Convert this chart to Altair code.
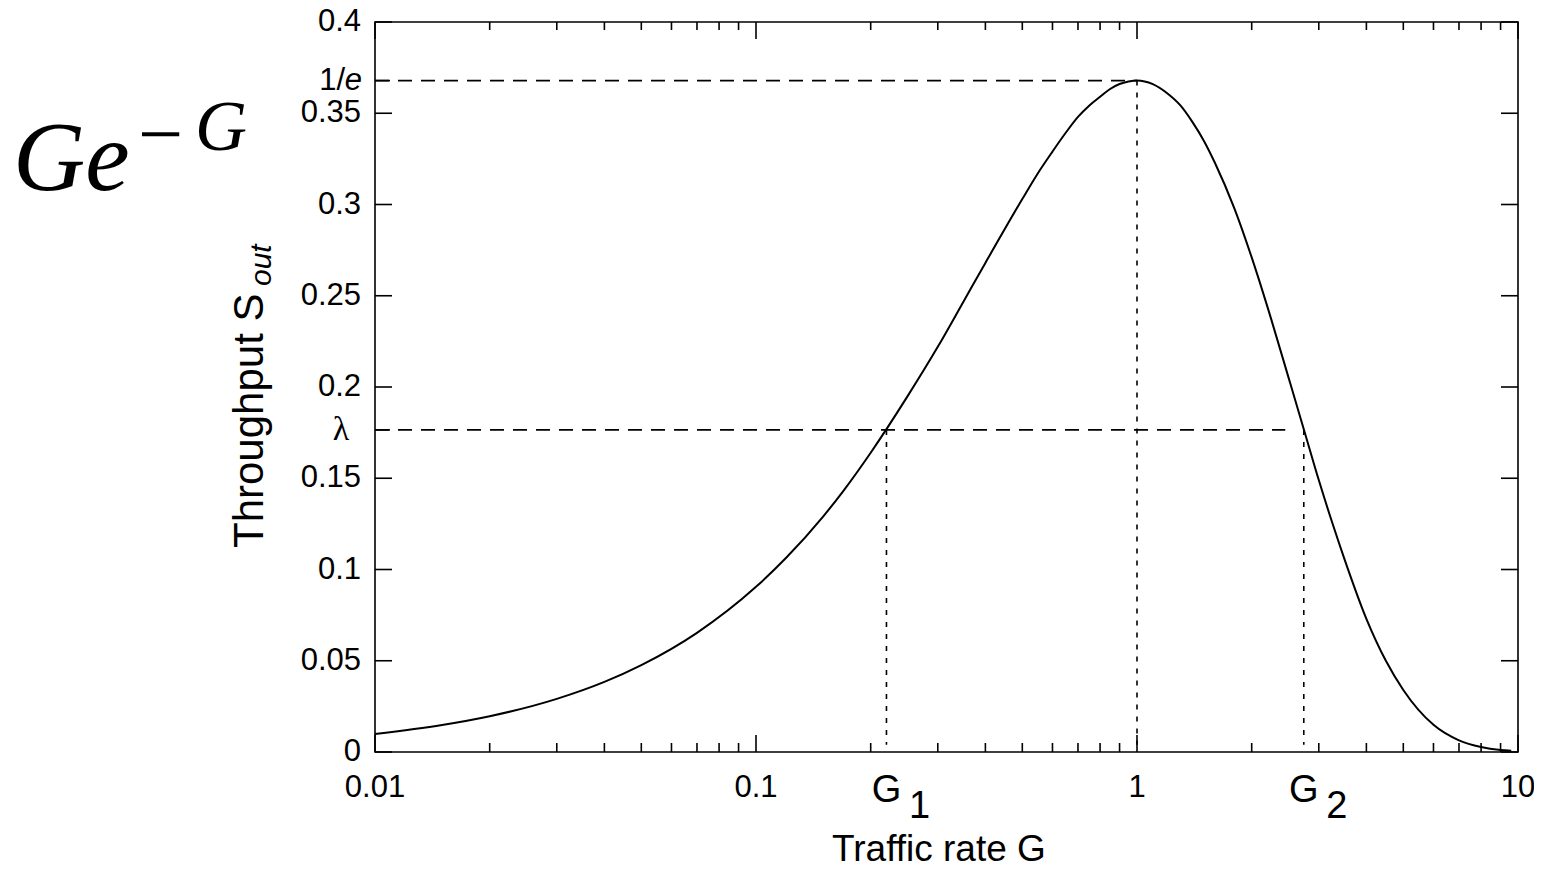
import altair as alt
import pandas as pd

# ---- data ----
G_VALUES = [0.01, 0.015, 0.02, 0.03, 0.04, 0.05, 0.07, 0.1, 0.12, 0.15, 0.17, 0.2,
            0.25, 0.3, 0.35, 0.4, 0.5, 0.55, 0.6, 0.65, 0.7, 0.75, 0.8, 0.85, 0.9,
            0.95, 1.0, 1.1, 1.2, 1.3, 1.4, 1.5, 1.6, 1.8, 2.0, 2.25, 2.5, 2.75,
            3.0, 3.25, 3.5, 4.0, 4.5, 5.0, 6.0, 7.0, 8.0, 9.0, 9.6]
S_VALUES = [0.0099, 0.0148, 0.0196, 0.0291, 0.0384, 0.0476, 0.0653, 0.0905, 0.1064,
            0.129, 0.1434, 0.164, 0.195, 0.222, 0.2466, 0.268, 0.303, 0.3173, 0.329,
            0.3393, 0.348, 0.3543, 0.359, 0.3633, 0.366, 0.3674, 0.368, 0.366, 0.361,
            0.3543, 0.345, 0.3347, 0.323, 0.298, 0.271, 0.2372, 0.205, 0.1758, 0.149,
            0.126, 0.106, 0.073, 0.05, 0.034, 0.0149, 0.0064, 0.0027, 0.0011, 0.0007]

X_MAJOR = [0.01, 0.1, 1, 10]
X_MAJOR_LABELS = ["0.01", "0.1", "1", "10"]
X_MINOR = [0.02, 0.03, 0.04, 0.05, 0.06, 0.07, 0.08, 0.09,
           0.2, 0.3, 0.4, 0.5, 0.6, 0.7, 0.8, 0.9,
           2, 3, 4, 5, 6, 7, 8, 9]
Y_TICKS = [0, 0.05, 0.1, 0.15, 0.2, 0.25, 0.3, 0.35, 0.4]
Y_TICK_LABELS = ["0", "0.05", "0.1", "0.15", "0.2", "0.25", "0.3", "0.35", "0.4"]

ONE_OVER_E = 0.3679
LAMBDA = 0.1765
G_PEAK = 1.0
G1 = 0.22
G2 = 2.74
LAMBDA_LINE_END = 2.45
DOTTED_BOTTOM = 0.004

W, H = 1143, 730
FONT = "Liberation Sans"
SERIF = "Liberation Serif"
BLACK = "#000000"
TICK_FS = 31

xs = alt.Scale(type="log", domain=[0.01, 10], nice=False)
ys = alt.Scale(domain=[0, 0.4], nice=False, zero=False)


def X(field="x"):
    return alt.X(f"{field}:Q", scale=xs, axis=None)


def Y(field="y"):
    return alt.Y(f"{field}:Q", scale=ys, axis=None)


one = pd.DataFrame({"k": [0]})

curve = alt.Chart(pd.DataFrame({"x": G_VALUES, "y": S_VALUES})).mark_line(
    color=BLACK, strokeWidth=2, interpolate="monotone"
).encode(x=X(), y=Y())

# dashed horizontal guides
hdf = pd.DataFrame({"x": [0.01, 0.01], "x2": [G_PEAK, LAMBDA_LINE_END],
                    "y": [ONE_OVER_E, LAMBDA]})
hlines = alt.Chart(hdf).mark_rule(color=BLACK, strokeWidth=1.6, strokeDash=[14, 9]).encode(
    x=X(), x2="x2:Q", y=Y()
)

# dotted vertical guides
vdf = pd.DataFrame({"x": [G1, G_PEAK, G2], "y": [LAMBDA, ONE_OVER_E, LAMBDA],
                    "y2": [DOTTED_BOTTOM] * 3})
vlines = alt.Chart(vdf).mark_rule(color=BLACK, strokeWidth=1.6, strokeDash=[5, 7]).encode(
    x=X(), y=Y(), y2="y2:Q"
)

# ticks (inward, mirrored)
xmaj = pd.DataFrame({"x": X_MAJOR, "t": X_MAJOR_LABELS})
xmin = pd.DataFrame({"x": X_MINOR})
ytk = pd.DataFrame({"y": Y_TICKS, "t": Y_TICK_LABELS})
yspecial = pd.DataFrame({"y": [ONE_OVER_E, LAMBDA]})

tick_style = dict(color=BLACK, strokeWidth=1.6)
ticks = [
    alt.Chart(xmaj).mark_rule(**tick_style).encode(x=X(), y=alt.value(H), y2=alt.value(H - 17)),
    alt.Chart(xmaj).mark_rule(**tick_style).encode(x=X(), y=alt.value(0), y2=alt.value(17)),
    alt.Chart(xmin).mark_rule(**tick_style).encode(x=X(), y=alt.value(H), y2=alt.value(H - 9)),
    alt.Chart(xmin).mark_rule(**tick_style).encode(x=X(), y=alt.value(0), y2=alt.value(8)),
    alt.Chart(ytk).mark_rule(**tick_style).encode(y=Y(), x=alt.value(0), x2=alt.value(17)),
    alt.Chart(ytk).mark_rule(**tick_style).encode(y=Y(), x=alt.value(W), x2=alt.value(W - 17)),
    alt.Chart(yspecial).mark_rule(**tick_style).encode(y=Y(), x=alt.value(0), x2=alt.value(15)),
]

# tick labels
xlabels = alt.Chart(xmaj).mark_text(
    font=FONT, fontSize=TICK_FS, color=BLACK, align="center", baseline="alphabetic"
).encode(x=X(), y=alt.value(775), text="t:N")

gdf = pd.DataFrame({"x": [G1, G2], "s": ["1", "2"]})
g_main = alt.Chart(gdf).mark_text(
    font=FONT, fontSize=38, color=BLACK, align="center", baseline="alphabetic", text="G"
).encode(x=X(), y=alt.value(780))
g_sub = alt.Chart(gdf).mark_text(
    font=FONT, fontSize=38, color=BLACK, align="center", baseline="alphabetic", dx=33
).encode(x=X(), y=alt.value(796), text="s:N")

ylabels = alt.Chart(ytk).mark_text(
    font=FONT, fontSize=TICK_FS, color=BLACK, align="right", baseline="middle"
).encode(y=Y(), x=alt.value(-14), text="t:N")

one_e = pd.DataFrame({"y": [ONE_OVER_E]})
lab_1 = alt.Chart(one_e).mark_text(
    font=FONT, fontSize=TICK_FS, color=BLACK, align="right", baseline="middle", text="1/"
).encode(y=Y(), x=alt.value(-30))
lab_e = alt.Chart(one_e).mark_text(
    font=FONT, fontSize=TICK_FS, fontStyle="italic", color=BLACK, align="right",
    baseline="middle", text="e"
).encode(y=Y(), x=alt.value(-13))
lab_lambda = alt.Chart(pd.DataFrame({"y": [LAMBDA]})).mark_text(
    font=SERIF, fontSize=34, color=BLACK, align="center", baseline="middle", text="λ"
).encode(y=Y(), x=alt.value(-34))

# axis titles
ytitle = alt.Chart(one).mark_text(
    font=FONT, fontSize=42, color=BLACK, angle=270, align="left",
    baseline="alphabetic", text="Throughput S"
).encode(x=alt.value(-112), y=alt.value(526))
ytitle_sub = alt.Chart(one).mark_text(
    font=FONT, fontSize=30, fontStyle="italic", color=BLACK, angle=270, align="left",
    baseline="alphabetic", text="out"
).encode(x=alt.value(-104), y=alt.value(264))
xtitle = alt.Chart(one).mark_text(
    font=FONT, fontSize=37, color=BLACK, align="left", baseline="alphabetic",
    text="Traffic rate  G"
).encode(x=alt.value(457), y=alt.value(839))

# formula title  G e^{-G}
f_main = alt.Chart(one).mark_text(
    font=SERIF, fontSize=100, fontStyle="italic", color=BLACK, align="left",
    baseline="alphabetic", text="Ge"
).encode(x=alt.value(-362), y=alt.value(168))
f_minus = alt.Chart(one).mark_text(
    font=SERIF, fontSize=80, color=BLACK, align="left", baseline="alphabetic", text="−"
).encode(x=alt.value(-237), y=alt.value(139))
f_sup = alt.Chart(one).mark_text(
    font=SERIF, fontSize=72, fontStyle="italic", color=BLACK, align="left",
    baseline="alphabetic", text="G"
).encode(x=alt.value(-180), y=alt.value(128))

chart = alt.layer(
    hlines, vlines, curve, *ticks, xlabels, g_main, g_sub, ylabels, lab_1, lab_e,
    lab_lambda, ytitle, ytitle_sub, xtitle, f_main, f_minus, f_sup
).properties(
    width=W, height=H,
    padding={"left": 367, "top": 14, "right": 16, "bottom": 116},
    autosize=alt.AutoSizeParams(type="none"),
    background="white",
).configure_view(stroke=BLACK, strokeWidth=1.6)

chart.save("out.html", embed_options={"renderer": "svg", "actions": False})
